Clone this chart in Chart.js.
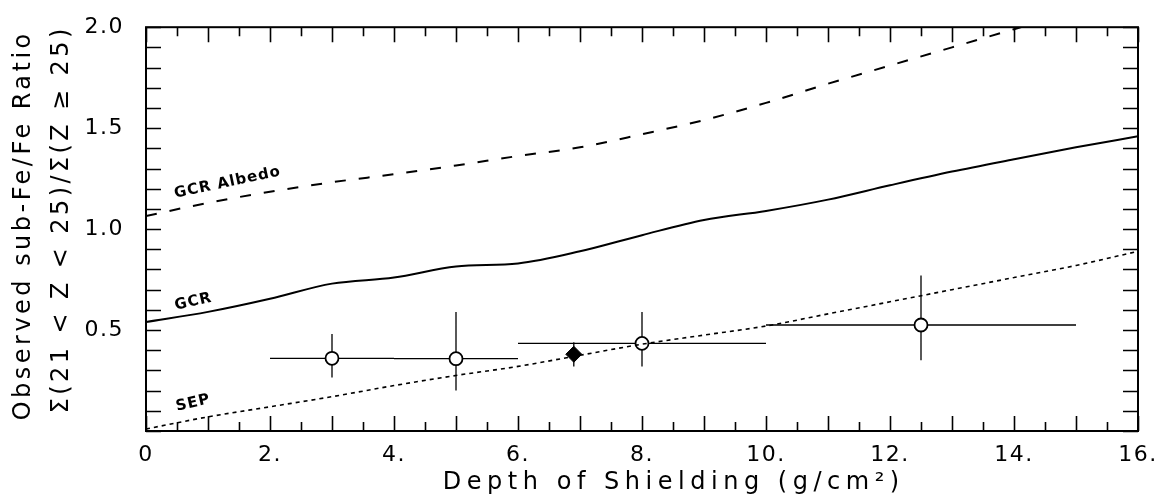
<!DOCTYPE html>
<html>
<head>
<meta charset="utf-8">
<script src="https://cdn.jsdelivr.net/npm/chart.js@4.4.1/dist/chart.umd.min.js"></script>
<style>
html, body { margin: 0; padding: 0; background: #fff; }
canvas { display: block; }
</style>
</head>
<body>
<canvas id="shielding-chart" width="1160" height="499"></canvas>
<script>
// model curves, read every 1 g/cm2
const curveDepth  = [0, 1, 2, 3, 4, 5, 6, 7, 8, 9, 10, 11, 12, 13, 14, 15, 16];
const albedoRatio = [1.065, 1.13, 1.185, 1.232, 1.272, 1.315, 1.362, 1.405, 1.47, 1.54, 1.625, 1.72, 1.81, 1.9, 1.99, 2.08, 2.17];
const gcrRatio    = [0.54, 0.59, 0.655, 0.73, 0.76, 0.815, 0.83, 0.89, 0.97, 1.045, 1.09, 1.146, 1.217, 1.285, 1.346, 1.405, 1.46];
const sepRatio    = [0.01, 0.07, 0.12, 0.17, 0.225, 0.275, 0.32, 0.375, 0.43, 0.475, 0.52, 0.58, 0.64, 0.70, 0.76, 0.82, 0.89];

// measured ratios (open circles)
const pointDepth = [3, 5, 8, 12.5];
const pointRatio = [0.36, 0.358, 0.434, 0.525];
const depthLow   = [2, 4, 6, 10];
const depthHigh  = [4, 6, 10, 15];
const ratioLow   = [0.265, 0.2, 0.32, 0.35];
const ratioHigh  = [0.48, 0.59, 0.59, 0.77];

// filled diamond
const diamondDepth = [6.9];
const diamondRatio = [0.38];
const diamondLow   = [0.32];
const diamondHigh  = [0.44];

// axis labels
const xTickValues = [0, 2, 4, 6, 8, 10, 12, 14, 16];
const xTickLabels = ['0', '2.', '4.', '6.', '8.', '10.', '12.', '14.', '16.'];
const yTickValues = [0.5, 1.0, 1.5, 2.0];
const yTickLabels = ['0.5', '1.0', '1.5', '2.0'];

// curve names
const curveLabels = ['GCR Albedo', 'GCR', 'SEP'];
const labelDepth  = [0.47, 0.48, 0.5];
const labelRatio  = [1.155, 0.6, 0.1];
const labelAngle  = [-12, -13, -13];

const toXY = (xs, ys) => xs.map((v, i) => ({x: v, y: ys[i]}));

// wider lettering for the tick labels
const tickSpacing = {
    id: 'tickSpacing',
    beforeDraw(chart) { chart.ctx.letterSpacing = '1.5px'; },
    afterDraw(chart) { chart.ctx.letterSpacing = '0px'; }
};

// error bars, under the markers
const errorBars = {
    id: 'errorBars',
    beforeDatasetsDraw(chart) {
        const {ctx, scales: {x, y}} = chart;
        ctx.save();
        ctx.strokeStyle = '#000';
        ctx.lineWidth = 1.3;
        ctx.beginPath();
        pointDepth.forEach((d, i) => {
            ctx.moveTo(x.getPixelForValue(depthLow[i]), y.getPixelForValue(pointRatio[i]));
            ctx.lineTo(x.getPixelForValue(depthHigh[i]), y.getPixelForValue(pointRatio[i]));
            ctx.moveTo(x.getPixelForValue(d), y.getPixelForValue(ratioLow[i]));
            ctx.lineTo(x.getPixelForValue(d), y.getPixelForValue(ratioHigh[i]));
        });
        diamondDepth.forEach((d, i) => {
            ctx.moveTo(x.getPixelForValue(d), y.getPixelForValue(diamondLow[i]));
            ctx.lineTo(x.getPixelForValue(d), y.getPixelForValue(diamondHigh[i]));
        });
        ctx.stroke();
        ctx.restore();
    }
};

// box with inward ticks on all four sides
const frameTicks = {
    id: 'frameTicks',
    afterDatasetsDraw(chart) {
        const {ctx, chartArea: a, scales: {x, y}} = chart;
        ctx.save();
        ctx.strokeStyle = '#000';
        ctx.lineWidth = 1.6;
        ctx.beginPath();
        for (let v = 0; v <= 16.001; v += 0.5) {
            const px = Math.round(x.getPixelForValue(v)) + 0.5;
            const len = Math.abs(v - Math.round(v)) < 0.01 ? 15 : 9;
            ctx.moveTo(px, a.bottom); ctx.lineTo(px, a.bottom - len);
            ctx.moveTo(px, a.top); ctx.lineTo(px, a.top + len);
        }
        for (let v = 0; v <= 2.001; v += 0.1) {
            const py = Math.round(y.getPixelForValue(v)) + 0.5;
            ctx.moveTo(a.left, py); ctx.lineTo(a.left + 15, py);
            ctx.moveTo(a.right, py); ctx.lineTo(a.right - 15, py);
        }
        ctx.stroke();
        ctx.lineWidth = 2;
        ctx.strokeRect(a.left, a.top, a.right - a.left, a.bottom - a.top);

        // curve names
        ctx.fillStyle = '#000';
        ctx.font = 'bold 15px "DejaVu Sans"';
        ctx.textAlign = 'left';
        ctx.textBaseline = 'alphabetic';
        ctx.letterSpacing = '1px';
        curveLabels.forEach((t, i) => {
            ctx.save();
            ctx.translate(x.getPixelForValue(labelDepth[i]), y.getPixelForValue(labelRatio[i]));
            ctx.rotate(labelAngle[i] * Math.PI / 180);
            ctx.fillText(t, 0, 0);
            ctx.restore();
        });
        ctx.restore();
    }
};

// spread text to a given width, like the original lettering
function spacedText(ctx, text, cx, cy, width) {
    ctx.letterSpacing = '0px';
    const w0 = ctx.measureText(text).width;
    const sp = Math.max(0, (width - w0) / text.length);
    ctx.letterSpacing = sp + 'px';
    ctx.fillText(text, cx + sp / 2, cy);
}

const axisTitles = {
    id: 'axisTitles',
    afterDraw(chart) {
        const {ctx} = chart;
        ctx.save();
        ctx.fillStyle = '#000';
        ctx.textAlign = 'center';
        ctx.textBaseline = 'middle';
        ctx.font = '24px "DejaVu Sans"';
        spacedText(ctx, 'Depth of Shielding (g/cm²)', 671, 483, 462);

        ctx.translate(24, 227);
        ctx.rotate(-Math.PI / 2);
        spacedText(ctx, 'Observed sub-Fe/Fe Ratio', 0, 0, 390);
        ctx.translate(6, 38);
        spacedText(ctx, 'Σ(21 < Z < 25)/Σ(Z ≥ 25)', 0, 0, 388);
        ctx.restore();
    }
};

const lineStyle = {
    showLine: true,
    borderColor: '#000',
    pointRadius: 0,
    cubicInterpolationMode: 'monotone'
};

const shieldingConfig = {
    type: 'scatter',
    data: {
        datasets: [
            {...lineStyle, label: 'GCR Albedo', data: toXY(curveDepth, albedoRatio), borderWidth: 2, borderDash: [11, 13]},
            {...lineStyle, label: 'GCR', data: toXY(curveDepth, gcrRatio), borderWidth: 2},
            {...lineStyle, label: 'SEP', data: toXY(curveDepth, sepRatio), borderWidth: 1.6, borderDash: [4, 4]},
            {
                label: 'Observed',
                data: toXY(pointDepth, pointRatio),
                pointStyle: 'circle',
                pointRadius: 6.5,
                backgroundColor: '#fff',
                borderColor: '#000',
                borderWidth: 1.8
            },
            {
                label: 'Diamond',
                data: toXY(diamondDepth, diamondRatio),
                pointStyle: 'rectRot',
                pointRadius: 8,
                backgroundColor: '#000',
                borderColor: '#000',
                borderWidth: 1
            }
        ]
    },
    options: {
        responsive: false,
        animation: false,
        layout: { padding: { top: 19, right: 22, left: 0, bottom: 0 } },
        plugins: { legend: { display: false }, tooltip: { enabled: false } },
        scales: {
            x: {
                type: 'linear',
                min: 0,
                max: 16,
                grid: { display: false },
                border: { display: false },
                afterBuildTicks: s => { s.ticks = xTickValues.map(v => ({value: v})); },
                afterFit: s => { s.height = 68; },
                ticks: {
                    color: '#000',
                    font: { family: '"DejaVu Sans"', size: 22 },
                    padding: 3,
                    maxRotation: 0,
                    callback: (v, i) => xTickLabels[i]
                }
            },
            y: {
                type: 'linear',
                min: 0,
                max: 2,
                grid: { display: false },
                border: { display: false },
                afterBuildTicks: s => { s.ticks = yTickValues.map(v => ({value: v})); },
                afterFit: s => { s.width = 146; },
                ticks: {
                    color: '#000',
                    font: { family: '"DejaVu Sans"', size: 22 },
                    padding: 14,
                    callback: (v, i) => yTickLabels[i]
                }
            }
        }
    },
    plugins: [tickSpacing, errorBars, frameTicks, axisTitles]
};

const shieldingChart = new Chart(
    document.getElementById('shielding-chart'),
    shieldingConfig
);
</script>
</body>
</html>
